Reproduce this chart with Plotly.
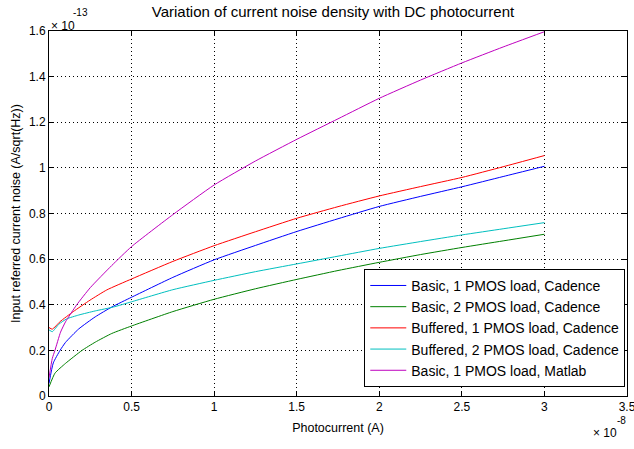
import plotly.graph_objects as go

# x in units of 1e-8 A, y in units of 1e-13 A/sqrt(Hz)
X_SCALE_EXP = -8
Y_SCALE_EXP = -13

series_names = [
    "Basic, 1 PMOS load, Cadence",
    "Basic, 2 PMOS load, Cadence",
    "Buffered, 1 PMOS load, Cadence",
    "Buffered, 2 PMOS load, Cadence",
    "Basic, 1 PMOS load, Matlab",
]

basic1_x = [0, 0.026, 0.067, 0.1, 0.18, 0.28, 0.38, 0.5, 0.75, 1.0, 1.25, 1.5, 1.75, 2.0, 2.25, 2.5, 2.75, 3.0]
basic1_y = [0.055, 0.145, 0.2, 0.235, 0.294, 0.347, 0.39, 0.433, 0.52, 0.597, 0.66, 0.721, 0.777, 0.831, 0.875, 0.917, 0.962, 1.007]

basic2_x = [0, 0.036, 0.1, 0.2, 0.28, 0.38, 0.5, 0.75, 1.0, 1.25, 1.5, 1.75, 2.0, 2.25, 2.5, 2.75, 3.0]
basic2_y = [0.04, 0.10, 0.143, 0.2, 0.236, 0.274, 0.307, 0.37, 0.424, 0.47, 0.511, 0.55, 0.586, 0.62, 0.651, 0.68, 0.709]

buf1_x = [0, 0.02, 0.067, 0.147, 0.248, 0.35, 0.5, 0.75, 1.0, 1.25, 1.5, 1.75, 2.0, 2.25, 2.5, 2.75, 3.0]
buf1_y = [0.30, 0.293, 0.326, 0.37, 0.42, 0.465, 0.513, 0.59, 0.659, 0.72, 0.779, 0.83, 0.877, 0.918, 0.958, 1.005, 1.054]

buf2_x = [0, 0.02, 0.06, 0.107, 0.18, 0.28, 0.39, 0.5, 0.75, 1.0, 1.25, 1.5, 1.75, 2.0, 2.25, 2.5, 2.75, 3.0]
buf2_y = [0.29, 0.282, 0.315, 0.338, 0.355, 0.373, 0.39, 0.413, 0.466, 0.507, 0.545, 0.579, 0.613, 0.647, 0.677, 0.706, 0.733, 0.76]

matlab_x = [0, 0.02, 0.036, 0.07, 0.1, 0.168, 0.25, 0.38, 0.5, 0.75, 1.0, 1.25, 1.5, 1.75, 2.0, 2.25, 2.5, 2.75, 3.0]
matlab_y = [0.08, 0.165, 0.2, 0.28, 0.325, 0.4, 0.475, 0.572, 0.655, 0.795, 0.925, 1.03, 1.125, 1.215, 1.305, 1.385, 1.46, 1.53, 1.597]

colors = ["#0000FF", "#008000", "#FF0000", "#00BFBF", "#BF00BF"]

x_ticks = [0, 0.5, 1, 1.5, 2, 2.5, 3, 3.5]
x_ticklabels = ["0", "0.5", "1", "1.5", "2", "2.5", "3", "3.5"]
y_ticks = [0, 0.2, 0.4, 0.6, 0.8, 1.0, 1.2, 1.4, 1.6]
y_ticklabels = ["0", "0.2", "0.4", "0.6", "0.8", "1", "1.2", "1.4", "1.6"]

FONT = "Liberation Sans, Arial, Helvetica, sans-serif"

fig = go.Figure()
data = [(basic1_x, basic1_y), (basic2_x, basic2_y), (buf1_x, buf1_y), (buf2_x, buf2_y), (matlab_x, matlab_y)]
for (xs, ys), name, c in zip(data, series_names, colors):
    fig.add_trace(go.Scatter(x=xs, y=ys, mode="lines", name=name,
                             line=dict(color=c, width=1, shape="spline", smoothing=0.5)))

axis_common = dict(
    showline=True, linecolor="black", linewidth=1, mirror="ticks",
    ticks="inside", ticklen=5, tickcolor="black", tickwidth=1,
    showgrid=True, gridcolor="black", gridwidth=1, griddash="1px,3px",
    zeroline=False, tickfont=dict(family=FONT, size=12, color="black"),
    ticklabeloverflow="allow", automargin=False,
)

fig.update_layout(
    width=634, height=449,
    margin=dict(l=49, r=7, t=31, b=53),
    paper_bgcolor="white", plot_bgcolor="white",
    font=dict(family=FONT, size=12, color="black"),
    title=dict(text="Variation of current noise density with DC photocurrent",
               x=333 / 634, xanchor="center", y=1 - 12 / 449, yanchor="middle",
               font=dict(family=FONT, size=15, color="black"), automargin=False),
    xaxis=dict(range=[0, 3.5], tickvals=x_ticks, ticktext=x_ticklabels,
               title=dict(text="Photocurrent (A)", standoff=9,
                          font=dict(family=FONT, size=12.5, color="black")),
               **axis_common),
    yaxis=dict(range=[0, 1.6], tickvals=y_ticks, ticktext=y_ticklabels,
               title=dict(text="Input referred current noise (A/sqrt(Hz))", standoff=5,
                          font=dict(family=FONT, size=12.5, color="black")),
               **axis_common),
    legend=dict(x=0.997, xanchor="right", y=0.025, yanchor="bottom",
                bgcolor="white", bordercolor="black", borderwidth=1,
                font=dict(family=FONT, size=14, color="black"),
                tracegroupgap=0, itemwidth=36),
    showlegend=True,
)

# exponent labels
fig.add_annotation(text="× 10", xref="paper", yref="paper", x=0, y=1, xanchor="left",
                   yanchor="bottom", yshift=-4, showarrow=False,
                   font=dict(family=FONT, size=12, color="black"))
fig.add_annotation(text=str(Y_SCALE_EXP), xref="paper", yref="paper", x=0, y=1, xanchor="left",
                   yanchor="bottom", xshift=22, yshift=11, showarrow=False,
                   font=dict(family=FONT, size=10, color="black"))
fig.add_annotation(text="× 10", xref="paper", yref="paper", x=1, y=0, xanchor="right",
                   yanchor="top", xshift=-8, yshift=-28, showarrow=False,
                   font=dict(family=FONT, size=12, color="black"))
fig.add_annotation(text=str(X_SCALE_EXP), xref="paper", yref="paper", x=1, y=0, xanchor="right",
                   yanchor="top", xshift=1, yshift=-17, showarrow=False,
                   font=dict(family=FONT, size=10, color="black"))

fig.write_html("out.html")
